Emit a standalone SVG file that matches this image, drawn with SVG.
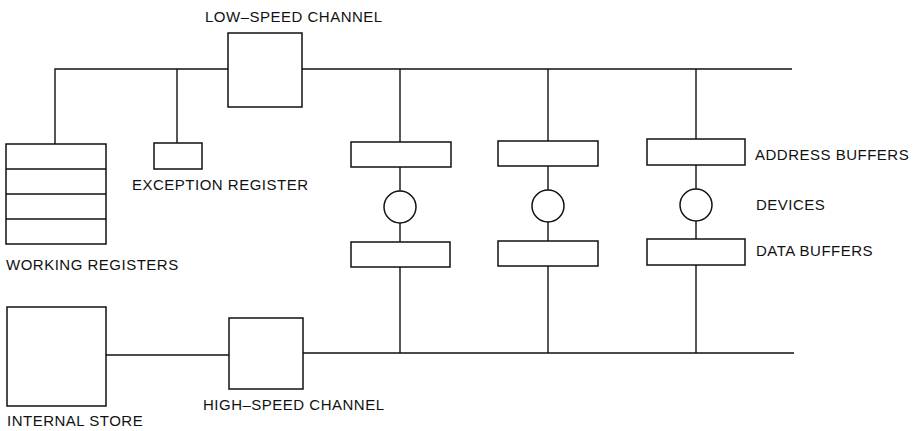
<svg xmlns="http://www.w3.org/2000/svg" width="917" height="431" viewBox="0 0 917 431">
<style>
.b{fill:none;stroke:#111;stroke-width:1.5}
.l{fill:none;stroke:#111;stroke-width:1.4}
text{font-family:"Liberation Sans",Arial,sans-serif;font-size:15px;fill:#111;letter-spacing:0.5px}
</style>
<rect width="917" height="431" fill="#fff"/>
<g id="connectors">
<path class="l" d="M55,144V69H228M302,69H792"/>
<path class="l" d="M177,69V143"/>
<path class="l" d="M400,69V142M400,167V191M400,223V242M400,267V353"/>
<path class="l" d="M548,69V141M548,166V190M548,222V241M548,266V353"/>
<path class="l" d="M696,69V139M696,165V189M696,221V239M696,265V353"/>
<path class="l" d="M106,355H229M303,353H794"/>
</g>
<g id="low-speed-channel"><rect class="b" x="228" y="33" width="74" height="74"/><text x="205" y="22">LOW–SPEED CHANNEL</text></g>
<g id="working-registers"><rect class="b" x="6" y="144" width="100" height="100"/><path class="b" d="M6,169H106M6,194H106M6,219H106"/><text x="6" y="270">WORKING REGISTERS</text></g>
<g id="exception-register"><rect class="b" x="154" y="143" width="48" height="26"/><text x="132" y="190">EXCEPTION REGISTER</text></g>
<g id="address-buffer-1"><rect class="b" x="351" y="142" width="100" height="25"/></g>
<g id="device-1"><circle class="b" cx="400" cy="207" r="16"/></g>
<g id="data-buffer-1"><rect class="b" x="351" y="242" width="99" height="25"/></g>
<g id="address-buffer-2"><rect class="b" x="498" y="141" width="100" height="25"/></g>
<g id="device-2"><circle class="b" cx="548" cy="206" r="16"/></g>
<g id="data-buffer-2"><rect class="b" x="498" y="241" width="100" height="25"/></g>
<g id="address-buffer-3"><rect class="b" x="647" y="139" width="98" height="26"/><text x="755" y="160">ADDRESS BUFFERS</text></g>
<g id="device-3"><circle class="b" cx="696" cy="205" r="16"/><text x="756" y="210">DEVICES</text></g>
<g id="data-buffer-3"><rect class="b" x="647" y="239" width="98" height="26"/><text x="756" y="256">DATA BUFFERS</text></g>
<g id="internal-store"><rect class="b" x="7" y="307" width="99" height="99"/><text x="7" y="426">INTERNAL STORE</text></g>
<g id="high-speed-channel"><rect class="b" x="229" y="318" width="74" height="71"/><text x="203" y="410">HIGH–SPEED CHANNEL</text></g>
</svg>
